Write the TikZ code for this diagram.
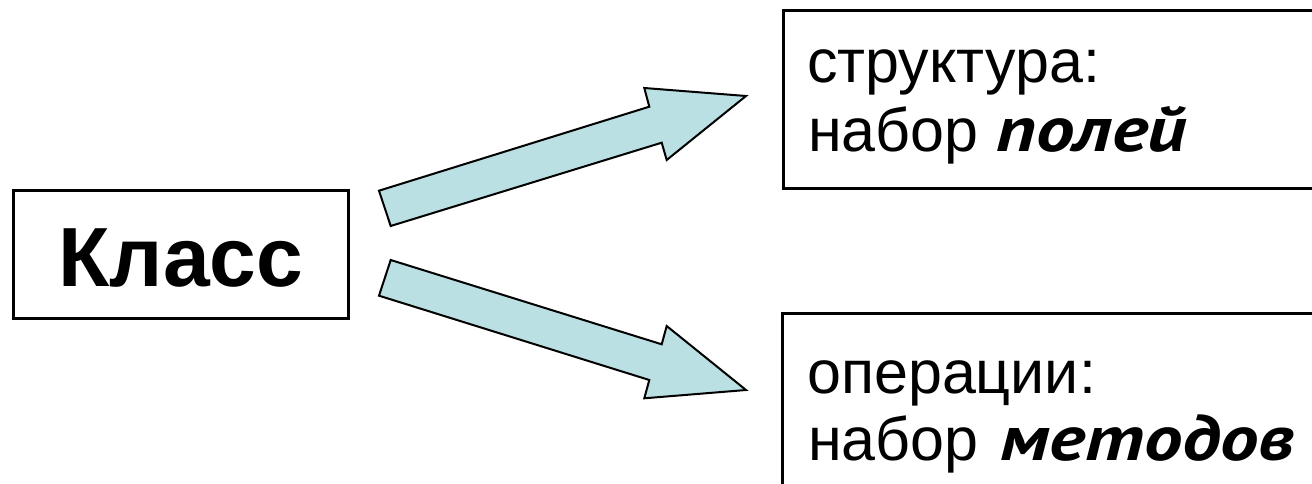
\documentclass[tikz,border=0pt]{standalone}
\usepackage{fontspec}
\setmainfont{Liberation Sans}
\newfontfamily\emfont{PT Sans}[FakeStretch=1.2]
\definecolor{arrowfill}{RGB}{186,224,227}
\begin{document}
\begin{tikzpicture}[x=1pt,y=-1pt,
  boxstyle/.style={draw=black, line width=3pt, fill=white, inner sep=0pt, anchor=north west},
  txt/.style={inner sep=0pt, anchor=base west, font=\fontsize{61}{70}\selectfont},
  emtxt/.style={inner sep=0pt, anchor=base west, font=\emfont\fontsize{64}{70}\selectfont\bfseries\itshape},
  blockarrow/.style={draw=black, line width=2pt, fill=arrowfill, line join=miter}]
\useasboundingbox (0,0) rectangle (1312,484);
\begin{scope}
\clip (0,0) rectangle (1312,484);
% Класс box
\node[boxstyle, minimum width=335pt, minimum height=128pt] (klass) at (12,189) {};
\node[inner sep=0pt, anchor=base, font=\fontsize{84}{90}\selectfont\bfseries] (klasstxt) at (181,286) {Класс};
% right boxes
\node[boxstyle, minimum width=560pt, minimum height=178pt] (sbox) at (782,9) {};
\node[boxstyle, minimum width=560pt, minimum height=190pt] (obox) at (781,312) {};
\node[txt] (s1) at (807,83) {структура:};
\node[txt] (s2) at (808,152) {набор};
\node[emtxt] (s2b) at (996,152) {полей};
\node[txt] (o1) at (807,393) {операции:};
\node[txt] (o2) at (808,460) {набор};
\node[emtxt] (o2b) at (1000,460) {методов};
% block arrows
\coordinate (a1tb) at (390.7,226);
\coordinate (a1tt) at (379,190.7);
\coordinate (a1st) at (649.3,106.7);
\coordinate (a1ht) at (644.3,88);
\coordinate (a1tip) at (746,96);
\coordinate (a1hb) at (666.7,160);
\coordinate (a1sb) at (661.7,142.7);
\draw[blockarrow] (a1tb) -- (a1tt) -- (a1st) -- (a1ht) -- (a1tip) -- (a1hb) -- (a1sb) -- cycle;
\coordinate (a2tt) at (390.7,260);
\coordinate (a2tb) at (379,295.7);
\coordinate (a2sb) at (649.3,380);
\coordinate (a2hb) at (644.3,398.3);
\coordinate (a2tip) at (746,390);
\coordinate (a2ht) at (666.7,326);
\coordinate (a2st) at (661.7,344.3);
\draw[blockarrow] (a2tt) -- (a2tb) -- (a2sb) -- (a2hb) -- (a2tip) -- (a2ht) -- (a2st) -- cycle;
\end{scope}
\end{tikzpicture}
\end{document}
